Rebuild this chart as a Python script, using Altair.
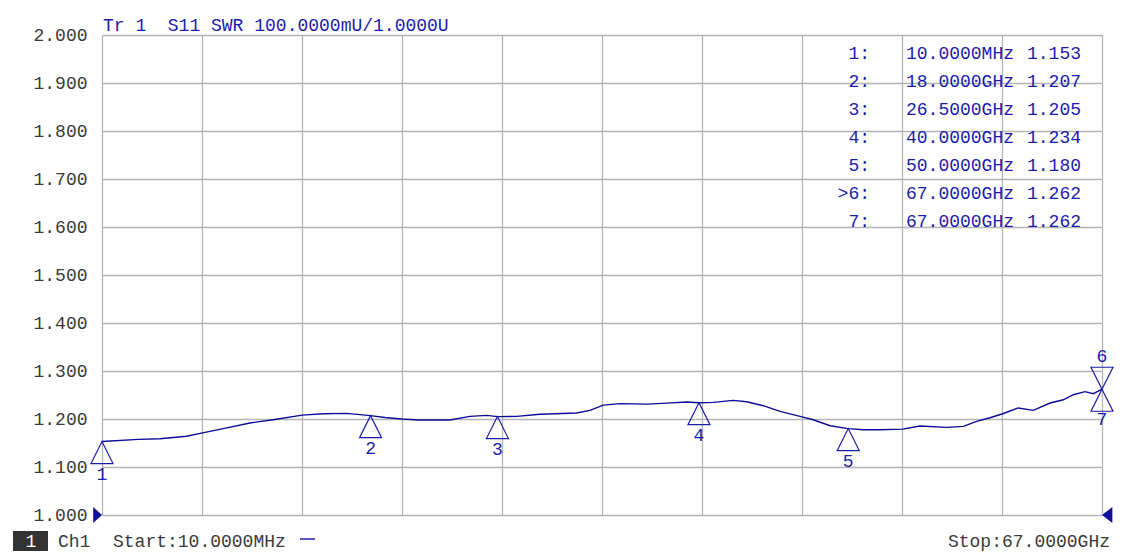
import altair as alt
import pandas as pd

# ---- data ----
freq_ghz = [0.01, 2.43, 3.89, 5.68, 6.75, 8.13, 9.92, 11.48, 13.42, 14.83, 16.40, 18.0,
            18.97, 20.09, 21.20, 23.32, 24.66, 25.78, 26.5, 27.79, 29.35, 31.81, 32.70,
            33.59, 34.71, 36.50, 37.84, 39.18, 40.0, 40.96, 42.30, 43.20, 44.31, 45.43,
            46.77, 47.66, 48.78, 50.0, 51.01, 52.13, 53.65, 54.81, 56.60, 57.71, 58.60,
            59.50, 60.35, 61.39, 62.40, 63.52, 64.41, 65.08, 65.86, 66.42, 67.0]
swr = [1.153, 1.1575, 1.159, 1.164, 1.171, 1.180, 1.1917, 1.1985, 1.208, 1.211, 1.2117, 1.207,
       1.203, 1.200, 1.198, 1.198, 1.2055, 1.2075, 1.205, 1.2055, 1.210, 1.2125, 1.218,
       1.229, 1.232, 1.231, 1.233, 1.2354, 1.234, 1.2346, 1.2388, 1.236, 1.2277, 1.216,
       1.2055, 1.1985, 1.186, 1.180, 1.1777, 1.1777, 1.179, 1.1854, 1.1825, 1.1846, 1.195,
       1.2027, 1.211, 1.223, 1.218, 1.2333, 1.240, 1.2506, 1.2569, 1.2527, 1.262]

marker_id = ["1", "2", "3", "4", "5", "6", "7"]
marker_freq = [0.01, 18.0, 26.5, 40.0, 50.0, 67.0, 67.0]
marker_swr = [1.153, 1.207, 1.205, 1.234, 1.180, 1.262, 1.262]
marker_freq_text = ["10.0000MHz", "18.0000GHz", "26.5000GHz", "40.0000GHz",
                    "50.0000GHz", "67.0000GHz", "67.0000GHz"]
marker_swr_text = ["1.153", "1.207", "1.205", "1.234", "1.180", "1.262", "1.262"]
table_index = ["1:", "2:", "3:", "4:", "5:", ">6:", "7:"]

y_ticks = [1.0, 1.1, 1.2, 1.3, 1.4, 1.5, 1.6, 1.7, 1.8, 1.9, 2.0]
x_start, x_stop = 0.01, 67.0
x_grid = [x_start + k * (x_stop - x_start) / 10 for k in range(11)]

title_text = "Tr 1\u00a0\u00a0S11 SWR 100.0000mU/1.0000U"
start_text = "Start:10.0000MHz"
stop_text = "Stop:67.0000GHz"

# ---- styles ----
FONT = "Liberation Mono"
BLUE = "#1c1caa"
TRACE = "#0c0c98"
GRAY_TXT = "#3a3a3a"
W, H = 1000, 480

trace = pd.DataFrame({"f": freq_ghz, "v": swr})
markers = pd.DataFrame({"f": marker_freq, "v": marker_swr, "id": marker_id})
markers["shape"] = ["M0,0 L-1,2 L1,2 Z"] * 5 + ["M0,0 L-1,-2 L1,-2 Z", "M0,0 L-1,2 L1,2 Z"]
refs = pd.DataFrame({"f": [x_start, x_stop], "v": [1.0, 1.0],
                     "shape": ["M-1.1,-1 L0,0 L-1.1,1 Z", "M1.3,-1 L0,0 L1.3,1 Z"]})

xs = alt.Scale(domain=[x_start, x_stop], nice=False, zero=False)
ys = alt.Scale(domain=[1.0, 2.0], nice=False, zero=False)
X = alt.X("f:Q", scale=xs, axis=alt.Axis(values=x_grid, labels=False, ticks=False, domain=False,
                                         grid=True, gridColor="#b4b4b4", gridWidth=1.3, title=None))
Y = alt.Y("v:Q", scale=ys, axis=alt.Axis(values=y_ticks, format=".3f", ticks=False, domain=False,
                                         labelPadding=15, labelFont=FONT, labelFontSize=18,
                                         labelColor=GRAY_TXT, grid=True, gridColor="#b4b4b4",
                                         gridWidth=1.3, title=None))

line = alt.Chart(trace).mark_line(color=TRACE, strokeWidth=1.4).encode(x=X, y=Y)

tri = alt.Chart(markers).mark_point(filled=False, color=BLUE, strokeWidth=1.2, size=484,
                                    opacity=1).encode(
    x="f:Q", y="v:Q", shape=alt.Shape("shape:N", scale=None))

lab_up = alt.Chart(markers).transform_filter("datum.id <= '5'").mark_text(
    font=FONT, fontSize=18, color=BLUE, dy=33, baseline="middle").encode(x="f:Q", y="v:Q", text="id:N")
lab6 = alt.Chart(markers).transform_filter("datum.id == '6'").mark_text(
    font=FONT, fontSize=18, color=BLUE, dy=-32, baseline="middle").encode(x="f:Q", y="v:Q", text="id:N")
lab7 = alt.Chart(markers).transform_filter("datum.id == '7'").mark_text(
    font=FONT, fontSize=18, color=BLUE, dy=31, baseline="middle").encode(x="f:Q", y="v:Q", text="id:N")

ref_tri = alt.Chart(refs).mark_point(filled=True, color="#10109a", size=256, opacity=1).encode(
    x="f:Q", y="v:Q", shape=alt.Shape("shape:N", scale=None))

title = alt.Chart().mark_text(text=title_text, font=FONT, fontSize=18, color=BLUE,
                              align="left", baseline="alphabetic").encode(
    x=alt.value(1), y=alt.value(-4))

tbl_idx = alt.Chart().mark_text(text="\n".join(table_index), lineBreak="\n", lineHeight=28,
                                font=FONT, fontSize=18, color=BLUE, align="right",
                                baseline="alphabetic").encode(x=alt.value(768), y=alt.value(24))
tbl_f = alt.Chart().mark_text(text="\n".join(marker_freq_text), lineBreak="\n", lineHeight=28,
                              font=FONT, fontSize=18, color=BLUE, align="left",
                              baseline="alphabetic").encode(x=alt.value(804), y=alt.value(24))
tbl_v = alt.Chart().mark_text(text="\n".join(marker_swr_text), lineBreak="\n", lineHeight=28,
                              font=FONT, fontSize=18, color=BLUE, align="left",
                              baseline="alphabetic").encode(x=alt.value(925), y=alt.value(24))

box = alt.Chart().mark_rect(color="#333333").encode(
    x=alt.value(-89), x2=alt.value(-54), y=alt.value(496), y2=alt.value(516))
box_txt = alt.Chart().mark_text(text="1", font=FONT, fontSize=18, color="white",
                                align="center", baseline="alphabetic").encode(
    x=alt.value(-71), y=alt.value(512))
ch_txt = alt.Chart().mark_text(text="Ch1", font=FONT, fontSize=18, color=GRAY_TXT,
                               align="left", baseline="alphabetic").encode(
    x=alt.value(-44), y=alt.value(512))
start_txt = alt.Chart().mark_text(text=start_text, font=FONT, fontSize=18, color=GRAY_TXT,
                                  align="left", baseline="alphabetic").encode(
    x=alt.value(11), y=alt.value(512))
dash = alt.Chart().mark_rule(color=BLUE, strokeWidth=1.5).encode(
    x=alt.value(198), x2=alt.value(213), y=alt.value(504))
stop_txt = alt.Chart().mark_text(text=stop_text, font=FONT, fontSize=18, color=GRAY_TXT,
                                 align="right", baseline="alphabetic").encode(
    x=alt.value(1008), y=alt.value(512))

chart = alt.layer(line, tri, lab_up, lab6, lab7, ref_tri, title, tbl_idx, tbl_f, tbl_v,
                  box, box_txt, ch_txt, start_txt, dash, stop_txt).properties(
    width=W, height=H,
    autosize=alt.AutoSizeParams(type="none"),
    padding={"left": 94, "top": 27, "right": 15, "bottom": 43},
).configure_view(stroke="#a0a0a0", strokeWidth=2.5).configure(background="white")

chart.save("out.html", embed_options={"renderer": "svg", "actions": False})
